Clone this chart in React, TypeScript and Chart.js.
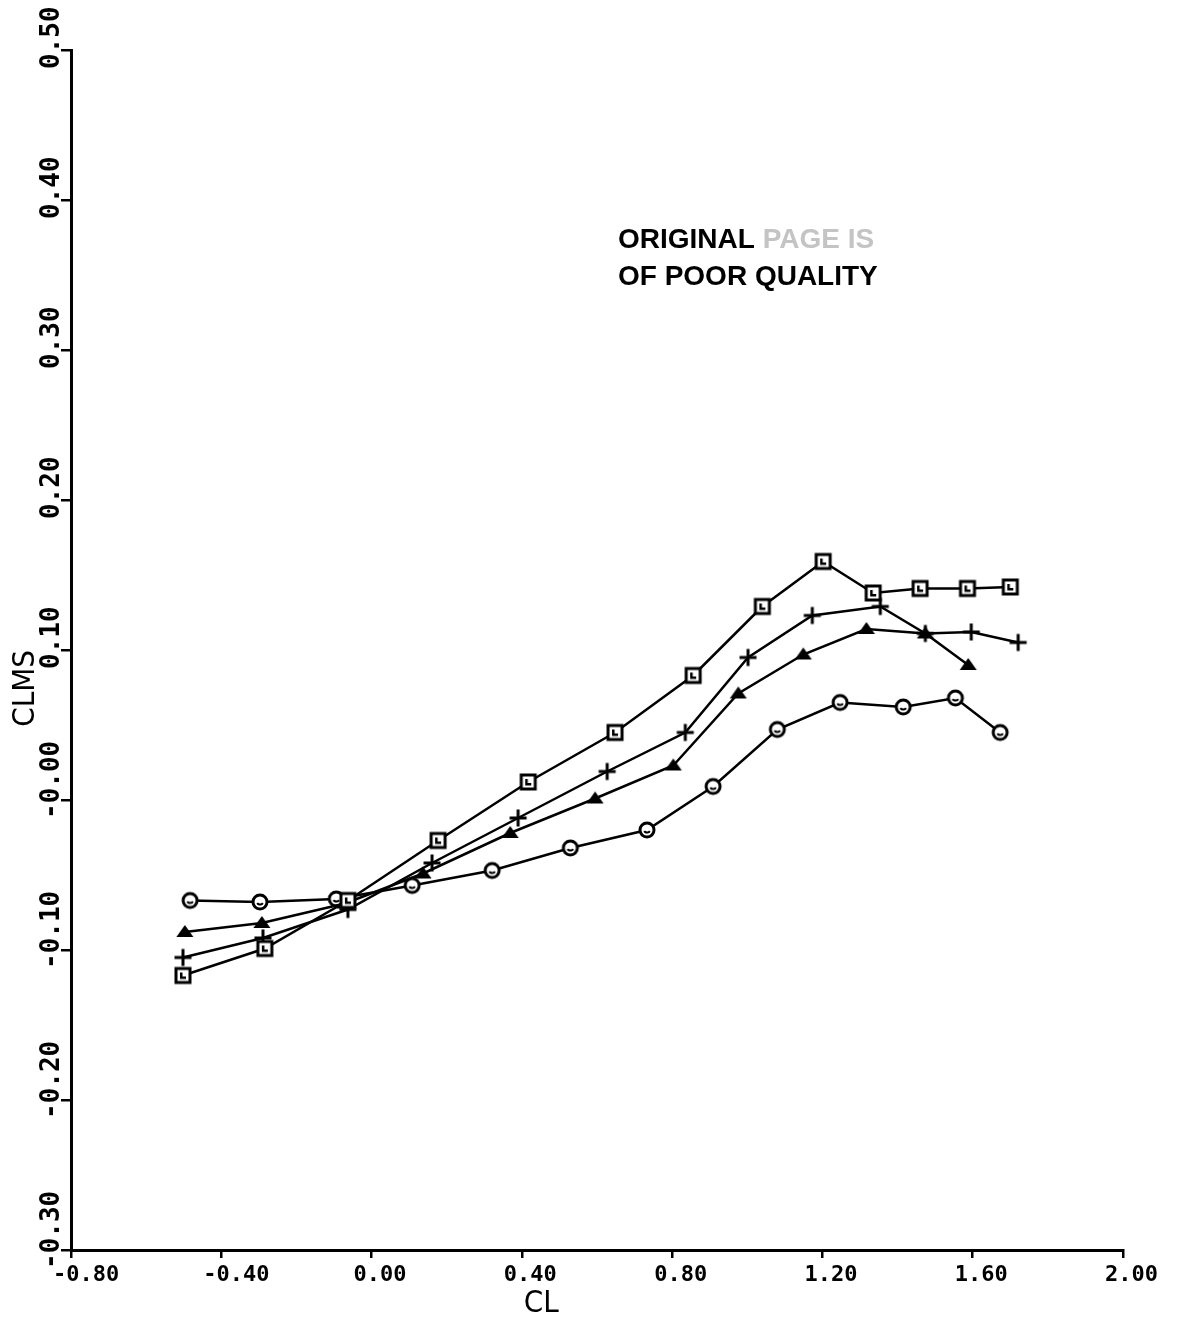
import React, { useEffect, useRef } from 'react';
import { Chart, registerables } from 'chart.js';

Chart.register(...registerables);

// ---- data ----
const squareCL = [-0.502, -0.284, -0.063, 0.177, 0.417, 0.648, 0.856, 1.040, 1.202, 1.335, 1.460, 1.586, 1.700];
const squareCLMS = [-0.117, -0.099, -0.067, -0.027, 0.012, 0.045, 0.083, 0.129, 0.159, 0.138, 0.141, 0.141, 0.142];

const plusCL = [-0.502, -0.289, -0.063, 0.161, 0.390, 0.627, 0.835, 1.002, 1.173, 1.354, 1.474, 1.596, 1.721];
const plusCLMS = [-0.105, -0.092, -0.073, -0.042, -0.012, 0.019, 0.045, 0.095, 0.123, 0.129, 0.111, 0.112, 0.105];

const triangleCL = [-0.497, -0.292, -0.071, 0.137, 0.369, 0.595, 0.803, 0.976, 1.149, 1.317, 1.474, 1.588];
const triangleCLMS = [-0.088, -0.082, -0.069, -0.049, -0.022, 0.001, 0.023, 0.071, 0.097, 0.114, 0.111, 0.090];

const circleCL = [-0.483, -0.297, -0.094, 0.108, 0.321, 0.529, 0.733, 0.909, 1.080, 1.247, 1.415, 1.554, 1.673];
const circleCLMS = [-0.067, -0.068, -0.066, -0.057, -0.047, -0.032, -0.020, 0.009, 0.047, 0.065, 0.062, 0.068, 0.045];

const xTickValues = [-0.8, -0.4, 0, 0.4, 0.8, 1.2, 1.6, 2.0];
const xTickLabels = ['-0.80', '-0.40', '0.00', '0.40', '0.80', '1.20', '1.60', '2.00'];
const yTickValues = [-0.3, -0.2, -0.1, 0, 0.1, 0.2, 0.3, 0.4, 0.5];
const yTickLabels = ['-0.30', '-0.20', '-0.10', '-0.00', '0.10', '0.20', '0.30', '0.40', '0.50'];

const xTitle = 'CL';
const yTitle = 'CLMS';
const stampLine1a = 'ORIGINAL';
const stampLine1b = 'PAGE IS';
const stampLine2 = 'OF POOR QUALITY';

function makeMarker(kind: string): HTMLCanvasElement {
  const c = document.createElement('canvas');
  const s = 24;
  c.width = s;
  c.height = s;
  const g = c.getContext('2d') as CanvasRenderingContext2D;
  const m = s / 2;
  g.strokeStyle = '#000';
  g.fillStyle = '#000';
  g.lineWidth = 3;
  if (kind === 'square') {
    g.fillStyle = '#fff';
    g.fillRect(m - 7, m - 7, 14, 14);
    g.strokeRect(m - 7, m - 7, 14, 14);
    g.fillStyle = '#000';
    g.fillRect(m - 3, m - 3, 2.5, 6);
    g.fillRect(m - 3, m + 1, 6, 2.5);
  } else if (kind === 'circle') {
    g.fillStyle = '#fff';
    g.beginPath();
    g.arc(m, m, 7, 0, Math.PI * 2);
    g.fill();
    g.stroke();
    g.lineWidth = 2;
    g.beginPath();
    g.arc(m, m - 1, 3.5, 0.2 * Math.PI, 0.8 * Math.PI);
    g.stroke();
  } else if (kind === 'triangle') {
    g.beginPath();
    g.moveTo(m - 8.5, m + 5);
    g.lineTo(m + 8.5, m + 5);
    g.lineTo(m, m - 7);
    g.closePath();
    g.fill();
  } else if (kind === 'plus') {
    g.lineWidth = 3;
    g.beginPath();
    g.moveTo(m - 8.5, m);
    g.lineTo(m + 8.5, m);
    g.moveTo(m, m - 8.5);
    g.lineTo(m, m + 8.5);
    g.stroke();
  }
  return c;
}

const toPts = (xs: number[], ys: number[]) => xs.map((x, i) => ({ x, y: ys[i] }));

const annotations = {
  id: 'annotations',
  afterDraw(chart: any) {
    const ctx = chart.ctx as CanvasRenderingContext2D;
    const a = chart.chartArea;
    ctx.save();
    ctx.fillStyle = '#000';
    // axis titles
    ctx.font = '31px "DejaVu Sans Condensed", "Liberation Sans Narrow", "DejaVu Sans", sans-serif';
    ctx.textAlign = 'center';
    ctx.textBaseline = 'alphabetic';
    ctx.fillText(xTitle, a.left + 0.447 * (a.right - a.left), 1312);
    ctx.save();
    ctx.translate(34, a.top + 0.532 * (a.bottom - a.top));
    ctx.rotate(-Math.PI / 2);
    ctx.fillText(yTitle, 0, 0);
    ctx.restore();
    // stamp
    ctx.font = 'bold 28px "Liberation Sans", Arial, sans-serif';
    ctx.textAlign = 'left';
    ctx.fillStyle = '#000';
    ctx.fillText(stampLine1a, 618, 248);
    const w = ctx.measureText(stampLine1a + ' ').width;
    ctx.fillStyle = '#c4c4c4';
    ctx.fillText(stampLine1b, 618 + w, 248);
    ctx.fillStyle = '#000';
    ctx.fillText(stampLine2, 618, 285);
    ctx.restore();
  },
};

const zeroPad = (s: any) => {
  s.paddingLeft = 0;
  s.paddingRight = 0;
  s.paddingTop = 0;
  s.paddingBottom = 0;
};

export default function App() {
  const ref = useRef<HTMLCanvasElement>(null);
  useEffect(() => {
    const canvas = ref.current;
    if (!canvas) return;
    const sq = makeMarker('square');
    const ci = makeMarker('circle');
    const tr = makeMarker('triangle');
    const pl = makeMarker('plus');
    const line = { showLine: true, borderColor: '#000', backgroundColor: '#000', borderWidth: 2.5, tension: 0, pointRadius: 8 };
    const chart = new Chart(canvas, {
      type: 'scatter',
      data: {
        datasets: [
          { ...line, label: 'square', data: toPts(squareCL, squareCLMS), pointStyle: sq },
          { ...line, label: 'plus', data: toPts(plusCL, plusCLMS), pointStyle: pl },
          { ...line, label: 'triangle', data: toPts(triangleCL, triangleCLMS), pointStyle: tr },
          { ...line, label: 'circle', data: toPts(circleCL, circleCLMS), pointStyle: ci },
        ],
      },
      options: {
        responsive: false,
        animation: false,
        events: [],
        layout: { padding: { left: 39, top: 50, right: 54, bottom: 0 } },
        plugins: { legend: { display: false }, tooltip: { enabled: false }, title: { display: false } },
        scales: {
          x: {
            type: 'linear',
            position: 'bottom',
            min: -0.8,
            max: 2.0,
            afterBuildTicks: (s: any) => {
              s.ticks = xTickValues.map((v) => ({ value: v }));
            },
            afterFit: (s: any) => {
              s.height = 67;
              zeroPad(s);
            },
            ticks: {
              autoSkip: false,
              minRotation: 0,
              maxRotation: 0,
              align: 'start',
              labelOffset: -18,
              padding: 4.5,
              color: '#000',
              font: { family: '"DejaVu Sans Mono", "Liberation Mono", monospace', size: 22, weight: 'bold' },
              callback: (_v: any, i: number) => xTickLabels[i],
            },
            grid: { drawOnChartArea: false, drawTicks: true, tickLength: 8, color: '#000', lineWidth: 2.5 },
            border: { display: true, color: '#000', width: 3 },
          },
          y: {
            type: 'linear',
            position: 'left',
            min: -0.3,
            max: 0.5,
            afterBuildTicks: (s: any) => {
              s.ticks = yTickValues.map((v) => ({ value: v }));
            },
            afterFit: (s: any) => {
              s.width = 32;
              zeroPad(s);
            },
            ticks: {
              autoSkip: false,
              minRotation: 90,
              maxRotation: 90,
              align: 'start',
              crossAlign: 'far',
              labelOffset: 19,
              padding: 0,
              color: '#000',
              font: { family: '"DejaVu Sans Mono", "Liberation Mono", monospace', size: 26, weight: 'bold' },
              callback: (_v: any, i: number) => yTickLabels[i],
            },
            grid: { drawOnChartArea: false, drawTicks: true, tickLength: 10, color: '#000', lineWidth: 2.5 },
            border: { display: true, color: '#000', width: 3 },
          },
        },
      } as any,
      plugins: [annotations],
    });
    return () => chart.destroy();
  }, []);
  return (
    <div style={{ position: 'absolute', left: 0, top: 0, width: 1177, height: 1317, background: '#fff' }}>
      <canvas ref={ref} width={1177} height={1317} style={{ display: 'block', width: 1177, height: 1317 }} />
    </div>
  );
}
